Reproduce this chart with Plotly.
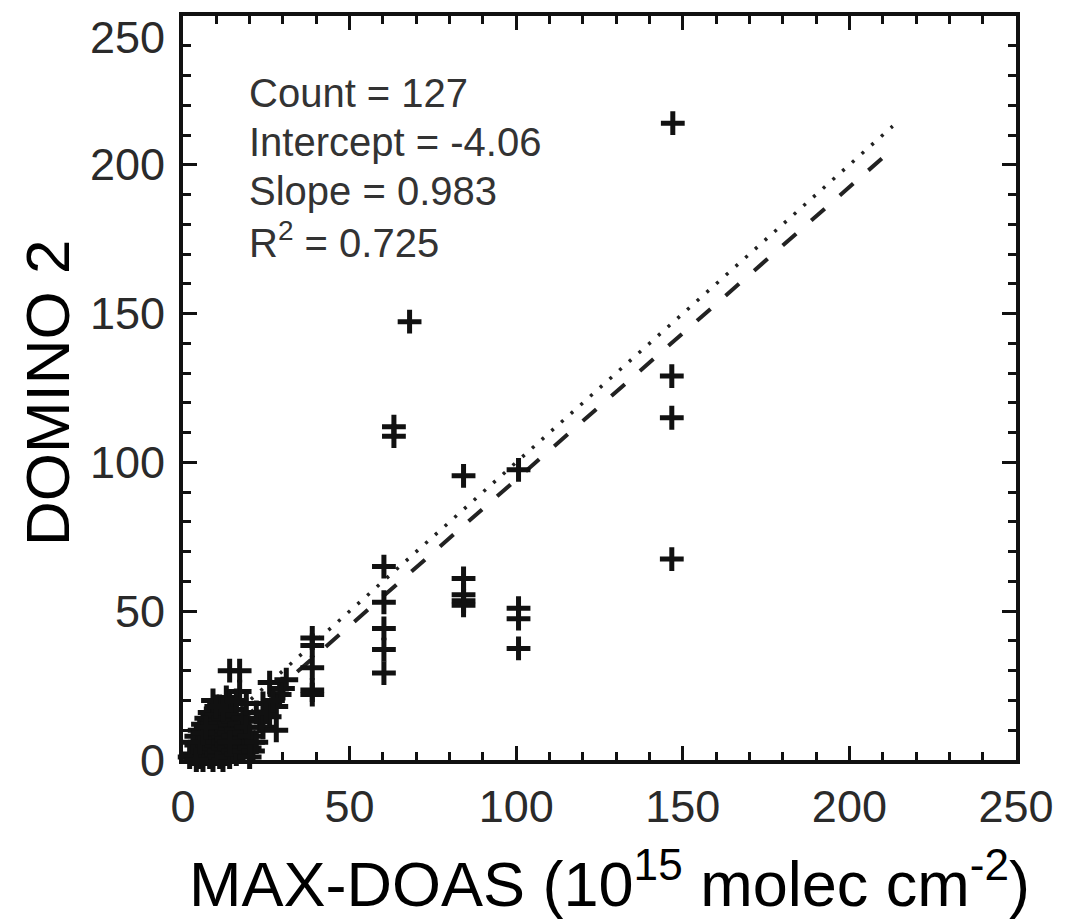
import plotly.graph_objects as go

# ---- data ----
# isolated / upper points
x_main = [147.0, 68.0, 63.3, 63.3, 84.2, 100.7, 146.7, 146.7, 146.7,
          60.3, 60.3, 60.3, 60.3, 60.3,
          84.2, 84.2, 84.2, 84.2,
          100.7, 100.7, 100.7,
          38.8, 38.8, 38.8, 38.8, 38.8,
          14.0, 17.0]
y_main = [214.0, 147.3, 112.0, 108.8, 95.5, 97.5, 129.0, 115.0, 67.5,
          65.0, 53.0, 44.2, 37.1, 29.2,
          61.0, 55.5, 53.5, 52.0,
          51.0, 47.5, 37.5,
          41.0, 38.5, 31.0, 23.5, 22.0,
          30.0, 30.0]

# cluster around x ~ 25
x_mid = [26, 29, 24, 28, 23, 26, 24, 25, 27, 30, 22, 28, 31]
y_mid = [26, 22, 19, 18, 13, 14.5, 11, 16, 20, 24, 16, 10, 27]

# dense cluster near the origin
x_low = [3, 4, 4, 5, 5, 5, 6, 6, 6, 6, 7, 7, 7, 7, 8, 8, 8, 8, 8, 9,
         9, 9, 9, 9, 10, 10, 10, 10, 10, 11, 11, 11, 11, 11, 11, 12, 12, 12, 12, 12,
         13, 13, 13, 13, 13, 13, 14, 14, 14, 14, 14, 15, 15, 15, 15, 15, 16, 16, 16, 16,
         17, 17, 17, 17, 18, 18, 18, 19, 19, 19, 20, 20, 21, 2, 3, 4, 5, 6, 7, 12,
         16, 10, 14, 21, 22, 20]
y_low = [2, 5, 8, 1, 3, 10, 0, 4, 7, 12, 2, 5, 9, 14, 1, 3, 6, 11, 16, 0,
         4, 8, 13, 20, 2, 5, 7, 10, 15, 1, 3, 6, 9, 12, 18, 0, 4, 8, 11, 14,
         2, 5, 7, 10, 16, 21, 1, 4, 9, 12, 19, 3, 6, 8, 13, 17, 2, 5, 10, 15,
         4, 7, 12, 23, 3, 9, 14, 6, 11, 19, 4, 8, 6, 1, 6, 0, 6, 9, 11, 17,
         20, 18, 6, 3, 6, 1]

fit_intercept = -4.06
fit_slope = 0.983
line_x = [0, 210]
one_x = [0, 213]

stats_lines = ["Count = 127", "Intercept = -4.06", "Slope = 0.983",
               "R<sup>2</sup> = 0.725"]
stats_y = [224.2, 207.8, 191.1, 174.7]

x_ticks = [0, 50, 100, 150, 200, 250]
y_ticks = [0, 50, 100, 150, 200, 250]
x_title = "MAX-DOAS (10<sup>15</sup> molec cm<sup>-2</sup>)"
y_title = "DOMINO 2"

xs = x_main + x_mid + x_low
ys = y_main + y_mid + y_low

fig = go.Figure()

# 1:1 dotted line
fig.add_trace(go.Scatter(x=one_x, y=one_x, mode="lines",
                         line=dict(color="#222", width=3.5, dash="3px,10px"),
                         hoverinfo="skip", showlegend=False))
# regression dashed line
fig.add_trace(go.Scatter(x=line_x, y=[fit_intercept + fit_slope * v for v in line_x],
                         mode="lines",
                         line=dict(color="#222", width=4, dash="18px,20px"),
                         hoverinfo="skip", showlegend=False))
# points
fig.add_trace(go.Scatter(x=xs, y=ys, mode="markers",
                         marker=dict(symbol="cross-thin", size=17, color="#111",
                                     line=dict(color="#111", width=5)),
                         showlegend=False, cliponaxis=False))

annotations = []
for txt, yv in zip(stats_lines, stats_y):
    annotations.append(dict(x=19.1, y=yv, xref="x", yref="y", text=txt, showarrow=False,
                            xanchor="left", yanchor="middle",
                            font=dict(family="Liberation Sans, Arial", size=40, color="#333")))
for v in y_ticks:
    annotations.append(dict(x=0, y=v, xref="paper", yref="y", text=str(v), showarrow=False,
                            xanchor="right", yanchor="top" if v == max(y_ticks) else "middle",
                            xshift=-16, yshift=6 if v == max(y_ticks) else 0,
                            font=dict(family="Liberation Sans, Arial", size=45, color="#2a2a2a")))
annotations.append(dict(x=0.5125, y=-0.160, xref="paper", yref="paper", text=x_title,
                        showarrow=False, xanchor="center", yanchor="middle",
                        font=dict(family="Liberation Sans, Arial", size=63, color="#000")))
annotations.append(dict(x=-0.1625, y=0.494, xref="paper", yref="paper", text=y_title,
                        showarrow=False, xanchor="center", yanchor="middle", textangle=-90,
                        font=dict(family="Liberation Sans, Arial", size=62, color="#000")))

axis_common = dict(showline=True, linewidth=4, linecolor="#111", mirror="ticks",
                   ticks="inside", ticklen=14, tickwidth=3, tickcolor="#111",
                   showgrid=False, zeroline=False,
                   minor=dict(dtick=10, ticks="inside", ticklen=8, tickwidth=3,
                              tickcolor="#111", showgrid=False))

fig.update_layout(
    width=1066, height=921,
    margin=dict(l=183, r=46, t=13, b=161),
    paper_bgcolor="white", plot_bgcolor="white",
    xaxis=dict(range=[0, 250], tickvals=x_ticks, ticktext=[str(v) for v in x_ticks],
               tickfont=dict(family="Liberation Sans, Arial", size=45, color="#2a2a2a"),
               ticklabelstandoff=4, **axis_common),
    yaxis=dict(range=[0, 250], tickvals=y_ticks, showticklabels=False, **axis_common),
    annotations=annotations,
)

fig.write_html("out.html")
